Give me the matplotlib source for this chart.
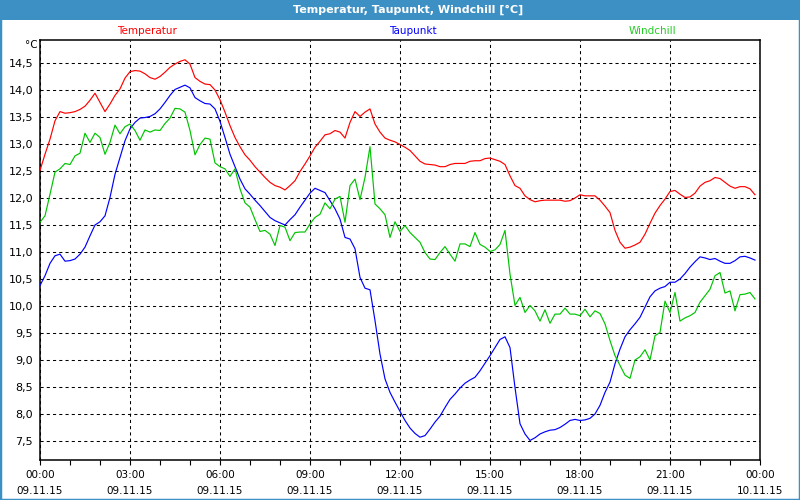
import matplotlib
matplotlib.use('Agg')
import matplotlib.pyplot as plt
import numpy as np
from matplotlib.patches import Rectangle
from matplotlib.ticker import MultipleLocator, FixedLocator, FuncFormatter

# 10-minute readings, 09.11.15 00:00 .. 23:50
temperatur = [
    12.51, 12.81, 13.09, 13.43, 13.60, 13.57, 13.58, 13.60, 13.64, 13.70, 13.81, 13.94,
    13.77, 13.60, 13.74, 13.90, 14.02, 14.22, 14.34, 14.36, 14.35, 14.30, 14.23, 14.20,
    14.25, 14.33, 14.42, 14.48, 14.53, 14.56, 14.48, 14.23, 14.16, 14.11, 14.10, 14.00,
    13.82, 13.59, 13.34, 13.12, 12.95, 12.80, 12.70, 12.58, 12.48, 12.38, 12.29, 12.23,
    12.20, 12.15, 12.23, 12.32, 12.49, 12.63, 12.78, 12.94, 13.05, 13.17, 13.19, 13.25,
    13.22, 13.11, 13.40, 13.60, 13.51, 13.59, 13.65, 13.37, 13.22, 13.11, 13.07, 13.04,
    12.99, 12.94, 12.88, 12.78, 12.68, 12.63, 12.62, 12.61, 12.58, 12.58, 12.62, 12.64,
    12.64, 12.64, 12.68, 12.69, 12.69, 12.73, 12.74, 12.71, 12.68, 12.62, 12.41, 12.23,
    12.18, 12.04, 11.97, 11.93, 11.95, 11.96, 11.96, 11.96, 11.96, 11.94, 11.95, 12.00,
    12.06, 12.04, 12.04, 12.04, 11.96, 11.85, 11.73, 11.40, 11.18, 11.07, 11.09, 11.13,
    11.18, 11.33, 11.53, 11.72, 11.86, 11.98, 12.12, 12.14, 12.07, 12.01, 12.02, 12.09,
    12.22, 12.29, 12.32, 12.38, 12.36, 12.29, 12.22, 12.18, 12.21, 12.21, 12.17, 12.06,
]
taupunkt = [
    10.38, 10.56, 10.79, 10.93, 10.96, 10.83, 10.84, 10.87, 10.96, 11.09, 11.30, 11.50,
    11.56, 11.67, 12.01, 12.44, 12.75, 13.06, 13.28, 13.40, 13.48, 13.49, 13.51, 13.56,
    13.65, 13.77, 13.90, 14.01, 14.05, 14.09, 14.04, 13.86, 13.80, 13.75, 13.74, 13.65,
    13.42, 13.12, 12.81, 12.58, 12.35, 12.17, 12.07, 11.96, 11.86, 11.75, 11.64, 11.58,
    11.54, 11.50, 11.60, 11.69, 11.83, 11.96, 12.09, 12.18, 12.14, 12.10, 11.95, 11.80,
    11.61, 11.27, 11.24, 11.06, 10.53, 10.33, 10.30, 9.73, 9.11, 8.65, 8.40, 8.22,
    8.05, 7.88, 7.74, 7.64, 7.57, 7.60, 7.72, 7.85, 7.96, 8.12, 8.27, 8.37,
    8.48, 8.57, 8.63, 8.68, 8.80, 8.94, 9.08, 9.23, 9.38, 9.43, 9.23, 8.49,
    7.82, 7.63, 7.51, 7.56, 7.63, 7.67, 7.70, 7.71, 7.75, 7.81, 7.88, 7.90,
    7.88, 7.89, 7.92, 8.00, 8.16, 8.40, 8.59, 8.93, 9.20, 9.43, 9.56, 9.67,
    9.79, 9.98, 10.17, 10.28, 10.33, 10.36, 10.44, 10.44, 10.50, 10.60, 10.72, 10.82,
    10.91, 10.89, 10.86, 10.88, 10.83, 10.79, 10.79, 10.84, 10.91, 10.92, 10.89, 10.85,
]
windchill = [
    11.55, 11.67, 12.07, 12.48, 12.54, 12.64, 12.62, 12.78, 12.83, 13.20, 13.03, 13.20,
    13.12, 12.81, 13.03, 13.35, 13.19, 13.32, 13.37, 13.25, 13.07, 13.26, 13.22, 13.26,
    13.25, 13.38, 13.48, 13.66, 13.65, 13.59, 13.25, 12.80, 12.99, 13.11, 13.09, 12.65,
    12.58, 12.54, 12.40, 12.54, 12.17, 11.91, 11.83, 11.60, 11.38, 11.40, 11.33, 11.12,
    11.49, 11.46, 11.21, 11.36, 11.37, 11.37, 11.52, 11.64, 11.70, 11.91, 11.80, 11.98,
    12.03, 11.55, 12.23, 12.35, 11.97, 12.38, 12.95, 11.89, 11.80, 11.69, 11.27, 11.56,
    11.38, 11.49, 11.36, 11.27, 11.18, 10.99, 10.87, 10.86, 10.99, 11.10, 10.96, 10.83,
    11.15, 11.15, 11.10, 11.36, 11.14, 11.09, 11.01, 11.04, 11.14, 11.40, 10.59, 10.01,
    10.16, 9.88, 10.01, 9.91, 9.72, 9.93, 9.68, 9.85, 9.85, 9.96, 9.85, 9.85,
    9.82, 9.94, 9.80, 9.91, 9.86, 9.67, 9.36, 9.08, 8.90, 8.72, 8.66, 9.00,
    9.06, 9.19, 9.00, 9.45, 9.51, 10.09, 9.88, 10.25, 9.72, 9.78, 9.82, 9.88,
    10.07, 10.19, 10.31, 10.56, 10.62, 10.24, 10.28, 9.91, 10.21, 10.22, 10.25, 10.13,
]

tick_hours = [0, 3, 6, 9, 12, 15, 18, 21, 24]
tick_labels = ['00:00\n09.11.15', '03:00\n09.11.15', '06:00\n09.11.15', '09:00\n09.11.15',
               '12:00\n09.11.15', '15:00\n09.11.15', '18:00\n09.11.15', '21:00\n09.11.15',
               '00:00\n10.11.15']
y_ticks = [7.5, 8.0, 8.5, 9.0, 9.5, 10.0, 10.5, 11.0, 11.5, 12.0, 12.5, 13.0, 13.5, 14.0, 14.5]

series = [
    ('Temperatur', temperatur, '#ff0000', '#ff0000', 147),
    ('Taupunkt', taupunkt, '#0000ff', '#0000ff', 413),
    ('Windchill', windchill, '#00c400', '#22cc22', 652),
]

bar = '#3d90c4'
plt.rcParams['font.family'] = 'DejaVu Sans'

fig = plt.figure(figsize=(8, 5), dpi=100, facecolor='white')
ax = fig.add_axes([0.05, 0.08, 0.90, 0.84])

for name, vals, col, lcol, xpix in series:
    hours = np.arange(len(vals)) / 6.0
    ax.plot(hours, vals, color=col, lw=0.85, zorder=3)
    fig.text(xpix / 800, 1 - 31 / 500, name, color=lcol, fontsize=7.5, ha='center', va='center')

ax.set_xlim(0, 24)
ax.set_ylim(7.148, 14.926)
ax.xaxis.set_major_locator(FixedLocator(tick_hours))
ax.set_xticklabels(tick_labels, fontsize=7.5, linespacing=1.75)
ax.xaxis.set_minor_locator(MultipleLocator(1))
ax.yaxis.set_major_locator(FixedLocator(y_ticks))
ax.yaxis.set_major_formatter(FuncFormatter(lambda v, p: ('%.1f' % v).replace('.', ',')))
ax.tick_params(axis='y', length=0, pad=5, labelsize=8)
ax.tick_params(axis='x', which='both', length=3.5, width=0.8, direction='out', pad=4)

ax.grid(True, which='major', color='black', linestyle=(0, (3, 3)), lw=0.75)
for sp in ax.spines.values():
    sp.set_linewidth(1.1)

# title bar and frame
fig.patches.append(Rectangle((0, 0.96), 1, 0.04, transform=fig.transFigure,
                             facecolor=bar, edgecolor='none', zorder=0))
fig.patches.append(Rectangle((0, 0), 1, 1, transform=fig.transFigure,
                             fill=False, edgecolor=bar, lw=2.5, zorder=1))
fig.text(0.51, 0.98, 'Temperatur, Taupunkt, Windchill [°C]', color='white',
         fontsize=8, fontweight='bold', ha='center', va='center')
fig.text(31 / 800, 1 - 45 / 500, '°C', fontsize=7.5, ha='center', va='center')

fig.savefig('out.png', dpi=100)
